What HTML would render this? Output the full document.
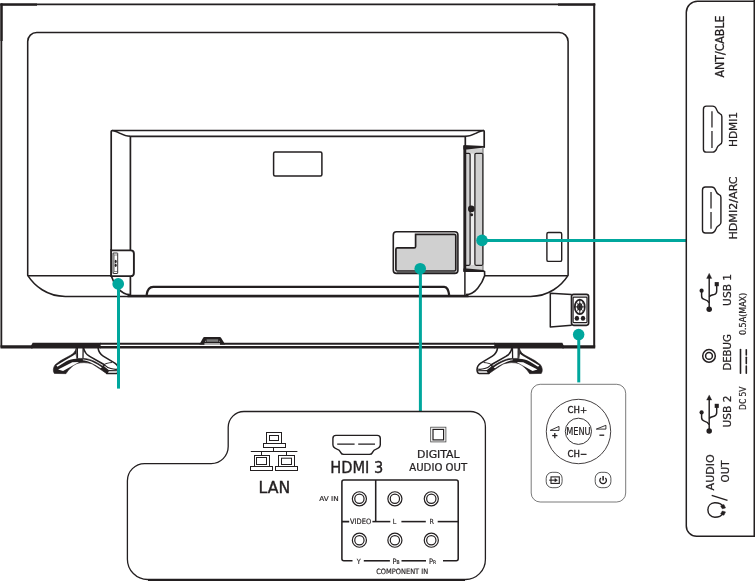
<!DOCTYPE html>
<html><head><meta charset="utf-8"><title>TV rear connections</title>
<style>html,body{margin:0;padding:0;background:#fff}svg{display:block;will-change:transform}text{font-family:"DejaVu Sans Condensed","DejaVu Sans","Liberation Sans",sans-serif;font-stretch:condensed;stroke:#231f20}</style>
</head><body>
<svg width="755" height="581" viewBox="0 0 755 581">
<rect width="755" height="581" fill="#fff"/>
<line x1="0.5" y1="4.45" x2="595.2" y2="4.45" stroke="#231f20" stroke-width="1.7" />
<line x1="0.5" y1="4.7" x2="37" y2="4.7" stroke="#231f20" stroke-width="2.2" />
<line x1="558" y1="4.7" x2="595.2" y2="4.7" stroke="#231f20" stroke-width="2.2" />
<line x1="1.35" y1="3.6" x2="1.35" y2="347.6" stroke="#231f20" stroke-width="1.8" />
<line x1="1.6" y1="3.6" x2="1.6" y2="41" stroke="#231f20" stroke-width="2.2" />
<line x1="594.2" y1="3.6" x2="594.2" y2="347.6" stroke="#231f20" stroke-width="2.0" />
<line x1="0.5" y1="346.8" x2="32.5" y2="346.8" stroke="#231f20" stroke-width="3.2" />
<line x1="562.5" y1="346.8" x2="595.2" y2="346.8" stroke="#231f20" stroke-width="3.2" />
<path d="M31.2,345.4 L32.6,342.65 L100.6,342.65 L100.6,348.5 L31.2,348.5 Z" fill="#231f20"/>
<path d="M494.3,342.65 L562.4,342.65 L563.6,345.4 L563.6,348.5 L494.3,348.5 Z" fill="#231f20"/>
<line x1="100" y1="343.65" x2="495" y2="343.65" stroke="#231f20" stroke-width="2.0" />
<line x1="100" y1="347.2" x2="495" y2="347.2" stroke="#231f20" stroke-width="2.6" />
<path d="M199.4,344.6 L203.3,337.6 Q203.6,337.0 204.4,337.0 L219.8,337.0 Q220.6,337.0 220.9,337.6 L225.2,344.6 Z" fill="#231f20"/>
<rect x="206.6" y="339.3" width="11.6" height="2.5" fill="#7a7a7a"/>
<rect x="204.4" y="343.4" width="15.6" height="1.2" fill="#fff"/>
<rect x="205" y="340.8" width="0.9" height="0.9" fill="#bbb"/><rect x="218.9" y="340.8" width="0.9" height="0.9" fill="#bbb"/>
<path d="M65.8,296.4 C46.8,296.6 34.3,285.5 27.7,275.3 L27.7,41.5 A9,9 0 0 1 36.7,32.5 L559.1,32.5 A9,9 0 0 1 568.1,41.5 L568.1,275.3 C561.5,285.5 549,296.6 530,296.4 Z" fill="none" stroke="#231f20" stroke-width="1.55" stroke-linejoin="round"/>
<line x1="27.8" y1="275.7" x2="111.2" y2="275.7" stroke="#231f20" stroke-width="1.5" />
<line x1="484.8" y1="275.8" x2="568" y2="275.8" stroke="#231f20" stroke-width="1.5" />
<path d="M111.2,275.7 L111.2,131.6 Q111.2,130.5 112.4,130.5 L483.4,130.5 Q484.2,130.5 484.2,131.4 L484.2,147.7" fill="none" stroke="#231f20" stroke-width="1.7" />
<path d="M130.4,295 L130.4,136.3 L465.3,136.3 L465.3,146.5" fill="none" stroke="#231f20" stroke-width="1.7" />
<path d="M111.8,130.5 C114,130.5 117,131.8 119.9,133.3 C123.3,135 125.8,136.3 130,136.3" fill="none" stroke="#231f20" stroke-width="1.5" />
<path d="M484,130.5 C481.8,130.5 478.8,131.8 475.9,133.3 C472.5,135 470,136.3 465.8,136.3" fill="none" stroke="#231f20" stroke-width="1.5" />
<path d="M111.2,275.7 C112.5,280 115.5,285 118.1,288.2 C121,291.8 124.5,294.5 129.9,294.6" fill="none" stroke="#231f20" stroke-width="1.6" />
<path d="M146.6,295 C147.4,289.6 149.5,286.95 153.2,286.95 L444.2,286.95 C447.6,286.95 448.4,290.3 449.2,295" fill="none" stroke="#231f20" stroke-width="2.2" stroke-linejoin="round"/>
<line x1="127.5" y1="295.95" x2="468.5" y2="295.95" stroke="#231f20" stroke-width="2.5" />
<path d="M484.5,271 L484.7,275.6 C483.4,280 480.4,285 477.7,288.2 C474.8,291.8 471.3,294.5 465.9,294.6" fill="none" stroke="#231f20" stroke-width="1.6" />
<line x1="464.9" y1="270" x2="464.9" y2="295" stroke="#231f20" stroke-width="1.5" />
<rect x="273.6" y="151.9" width="48.30" height="24.10" rx="1.5" fill="none" stroke="#231f20" stroke-width="1.5"/>
<rect x="546.9" y="232.5" width="14.80" height="28.90" rx="1.5" fill="none" stroke="#231f20" stroke-width="1.4"/>
<rect x="465.6" y="148.4" width="17.4" height="122.2" fill="#d0d0d0"/>
<rect x="470.4" y="153.6" width="4.2" height="111.4" fill="#ececec"/>
<path d="M465.8,153.3 L468.9,153.3 Q470.1,153.3 470.1,154.5 L470.1,264.1 Q470.1,265.3 468.9,265.3 L465.8,265.3" fill="none" stroke="#231f20" stroke-width="1.25" />
<path d="M474.9,154.5 Q474.9,153.3 476.1,153.3 L481.6,153.3 Q482.8,153.3 482.8,154.5 L482.8,264.1 Q482.8,265.3 481.6,265.3 L476.1,265.3 Q474.9,265.3 474.9,264.1 Z" fill="none" stroke="#231f20" stroke-width="1.25" />
<line x1="483.0" y1="148" x2="483.0" y2="270" stroke="#555" stroke-width="0.9" />
<line x1="464.8" y1="146" x2="464.8" y2="271.5" stroke="#231f20" stroke-width="2.9" />
<path d="M463.4,145.1 L483.6,146.0 Q485.0,146.2 484.9,147.4 L478,148.2 L467,149.6 L463.4,149.6 Z" fill="#231f20"/>
<path d="M463.4,268.4 L467,268.4 L478,269.6 L483.4,269.9 Q485.2,270.3 485.2,272 L484,272 L463.4,272 Z" fill="#231f20"/>
<circle cx="471.3" cy="208.9" r="3.3" fill="#231f20"/>
<circle cx="471.6" cy="214.8" r="1.5" fill="#231f20"/>
<rect x="393.3" y="231.8" width="64.60" height="41.60" rx="3.2" fill="#fff" stroke="#231f20" stroke-width="1.6"/>
<path d="M415.6,234.4 L454.4,234.4 Q455.8,234.4 455.8,235.8 L455.8,269.6 Q455.8,271 454.4,271 L397.3,271 Q395.9,271 395.9,269.6 L395.9,249.2 Q395.9,247.8 397.3,247.8 L414.2,247.8 Q415.6,247.8 415.6,246.4 Z" fill="#d0d0d0" stroke="#231f20" stroke-width="1.7" />
<line x1="397" y1="272.2" x2="455" y2="272.2" stroke="#555" stroke-width="1.6" />
<path d="M111.2,250.4 L130.7,250.4 Q133.9,250.4 133.9,253.6 L133.9,272.9 Q133.9,276.1 130.7,276.1 L111.2,276.1" fill="#fff" stroke="#231f20" stroke-width="1.9" />
<line x1="111.2" y1="249" x2="111.2" y2="277" stroke="#231f20" stroke-width="1.7" />
<rect x="113.0" y="253.0" width="4.70" height="20.50" rx="0.4" fill="#fff" stroke="#231f20" stroke-width="0.9"/>
<path d="M113,253 L114.2,255 L114.2,271.5 L113,273.5 M114.2,255 L117.7,255 M114.2,271.5 L117.7,271.5" fill="none" stroke="#444" stroke-width="0.6" />
<ellipse cx="115.7" cy="261.4" rx="1.0" ry="1.7" fill="#231f20"/><ellipse cx="115.7" cy="265.2" rx="1.0" ry="1.7" fill="#231f20"/>
<path d="M571.7,294.4 L550.3,293.2 L550.3,326.9 L571.7,325.2" fill="#fff" stroke="#231f20" stroke-width="1.5" stroke-linejoin="round"/>
<rect x="571.5" y="294.4" width="17.10" height="30.90" rx="2.2" fill="#fff" stroke="#231f20" stroke-width="1.7"/>
<rect x="573.1" y="297.2" width="13.90" height="25.40" rx="0.8" fill="none" stroke="#231f20" stroke-width="1.2"/>
<ellipse cx="579.8" cy="306.9" rx="5.0" ry="7.3" fill="#fff" stroke="#231f20" stroke-width="1.7"/>
<ellipse cx="579.8" cy="306.9" rx="2.3" ry="3.4" fill="#555" stroke="#231f20" stroke-width="1.0"/>
<line x1="579.8" y1="300" x2="579.8" y2="313.8" stroke="#231f20" stroke-width="1.0" />
<line x1="575" y1="306.9" x2="584.6" y2="306.9" stroke="#231f20" stroke-width="1.0" />
<line x1="576.4" y1="302" x2="583.2" y2="311.8" stroke="#231f20" stroke-width="0.7" />
<line x1="583.2" y1="302" x2="576.4" y2="311.8" stroke="#231f20" stroke-width="0.7" />
<ellipse cx="576.9" cy="318.2" rx="2.2" ry="2.5" fill="#231f20"/>
<ellipse cx="583.0" cy="318.2" rx="2.2" ry="2.5" fill="#231f20"/>
<path d="M 519.27,347.62 C 520.02,351.41 522.06,353.74 524.98,355.20 L 534.88,360.62 L 540.42,364.70 C 542.46,367.44 542.93,371.22 541.29,373.44 L 529.64,373.67 C 527.31,370.06 523.23,365.40 518.57,363.53 C 514.49,362.19 508.66,362.37 504.00,363.76 C 501.14,365.10 495.89,368.89 488.90,373.67 L 487.27,370.64 L 492.40,366.45 C 499.39,361.78 506.97,357.94 512.79,358.52 C 515.65,358.29 518.57,358.52 519.27,358.75 Z " fill="#231f20" stroke="#231f20" stroke-width="0.6" stroke-linejoin="round"/>
<path d="M 520.02,353.74 C 521.48,355.20 523.23,356.07 524.40,356.66 L 539.26,365.40 L 538.09,366.85 L 529.64,361.61 C 526.14,359.45 523.23,359.10 519.27,358.75 Z " fill="#fff" stroke="#231f20" stroke-width="0" />
<path d="M 516.53,361.90 L 523.23,362.25 L 537.51,369.48 L 532.55,371.11 L 521.48,364.70 Z " fill="#fff" stroke="#231f20" stroke-width="0" />
<path d="M 493.68,367.44 C 499.97,363.18 506.97,359.57 512.79,359.57 L 512.74,359.69 L 512.74,360.27 C 508.13,360.62 501.14,364.23 495.02,368.31 Z " fill="#fff" stroke="#231f20" stroke-width="0" />
<path d="M 497.64,347.62 C 497.06,351.41 495.31,354.32 492.40,356.07 L 480.74,363.07 C 477.83,365.10 476.66,368.31 477.24,371.22 C 477.54,372.97 478.12,373.55 479.28,373.55 L 488.90,373.55 L 487.44,370.64 L 492.40,366.56 L 491.23,364.81 L 506.38,356.07 C 509.30,354.62 511.04,351.99 512.21,347.62 Z " fill="#fff" stroke="#231f20" stroke-width="1.6" stroke-linejoin="round"/>
<path d="M 483.66,362.48 C 487.15,362.77 490.36,363.36 491.23,364.81 C 487.73,368.31 481.91,369.77 478.12,369.18 " fill="none" stroke="#231f20" stroke-width="1.2" />
<path d="M 477.54,370.76 L 487.44,370.64 " fill="none" stroke="#231f20" stroke-width="1.1" />
<path d="M 512.45,347.62 L 512.62,358.40 " fill="none" stroke="#231f20" stroke-width="1.3" />
<path d="M 518.28,347.62 L 518.16,358.52 " fill="none" stroke="#231f20" stroke-width="1.3" />
<path d="M 76.33,347.62 C 75.58,351.41 73.54,353.74 70.62,355.20 L 60.72,360.62 L 55.18,364.70 C 53.14,367.44 52.67,371.22 54.31,373.44 L 65.96,373.67 C 68.29,370.06 72.37,365.40 77.03,363.53 C 81.11,362.19 86.94,362.37 91.60,363.76 C 94.46,365.10 99.71,368.89 106.70,373.67 L 108.33,370.64 L 103.20,366.45 C 96.21,361.78 88.63,357.94 82.81,358.52 C 79.95,358.29 77.03,358.52 76.33,358.75 Z " fill="#231f20" stroke="#231f20" stroke-width="0.6" stroke-linejoin="round"/>
<path d="M 75.58,353.74 C 74.12,355.20 72.37,356.07 71.20,356.66 L 56.34,365.40 L 57.51,366.85 L 65.96,361.61 C 69.46,359.45 72.37,359.10 76.33,358.75 Z " fill="#fff" stroke="#231f20" stroke-width="0" />
<path d="M 79.07,361.90 L 72.37,362.25 L 58.09,369.48 L 63.05,371.11 L 74.12,364.70 Z " fill="#fff" stroke="#231f20" stroke-width="0" />
<path d="M 101.92,367.44 C 95.63,363.18 88.63,359.57 82.81,359.57 L 82.86,359.69 L 82.86,360.27 C 87.47,360.62 94.46,364.23 100.58,368.31 Z " fill="#fff" stroke="#231f20" stroke-width="0" />
<path d="M 97.96,347.62 C 98.54,351.41 100.29,354.32 103.20,356.07 L 114.86,363.07 C 117.77,365.10 118.94,368.31 118.36,371.22 C 118.06,372.97 117.48,373.55 116.32,373.55 L 106.70,373.55 L 108.16,370.64 L 103.20,366.56 L 104.37,364.81 L 89.22,356.07 C 86.30,354.62 84.56,351.99 83.39,347.62 Z " fill="#fff" stroke="#231f20" stroke-width="1.6" stroke-linejoin="round"/>
<path d="M 111.94,362.48 C 108.45,362.77 105.24,363.36 104.37,364.81 C 107.87,368.31 113.69,369.77 117.48,369.18 " fill="none" stroke="#231f20" stroke-width="1.2" />
<path d="M 118.06,370.76 L 108.16,370.64 " fill="none" stroke="#231f20" stroke-width="1.1" />
<path d="M 83.15,347.62 L 82.98,358.40 " fill="none" stroke="#231f20" stroke-width="1.3" />
<path d="M 77.32,347.62 L 77.44,358.52 " fill="none" stroke="#231f20" stroke-width="1.3" />
<line x1="118.5" y1="283.8" x2="118.5" y2="388.6" stroke="#00a79d" stroke-width="3.0" />
<circle cx="118.2" cy="283.9" r="5.85" fill="#00a79d"/>
<line x1="420.4" y1="268.7" x2="420.4" y2="411.2" stroke="#00a79d" stroke-width="3.0" />
<circle cx="420.2" cy="268.7" r="5.8" fill="#00a79d"/>
<line x1="482" y1="240.5" x2="686" y2="240.5" stroke="#00a79d" stroke-width="3.0" />
<circle cx="482" cy="240.4" r="5.8" fill="#00a79d"/>
<line x1="578.75" y1="334.7" x2="578.75" y2="382.4" stroke="#00a79d" stroke-width="3.0" />
<circle cx="578.65" cy="334.6" r="5.75" fill="#00a79d"/>
<path d="M756,1.15 L697.5,1.15 A11.2,11.2 0 0 0 686.3,12.35 L686.3,526 A10.3,10.3 0 0 0 696.6,536.3 L756,536.3" fill="none" stroke="#231f20" stroke-width="1.5" />
<line x1="754.3" y1="0" x2="754.3" y2="537" stroke="#231f20" stroke-width="1.6" />
<text x="0" y="0" font-size="11.7" stroke-width="0.26" text-anchor="middle" fill="#231f20" textLength="61.8" lengthAdjust="spacingAndGlyphs" transform="translate(724.0 46.5) rotate(-90)">ANT/CABLE</text>
<text x="0" y="0" font-size="11.3" stroke-width="0.25" text-anchor="middle" fill="#231f20" textLength="35.2" lengthAdjust="spacingAndGlyphs" transform="translate(736.9 129.5) rotate(-90)">HDMI1</text>
<text x="0" y="0" font-size="11.3" stroke-width="0.25" text-anchor="middle" fill="#231f20" textLength="63.2" lengthAdjust="spacingAndGlyphs" transform="translate(736.7 208) rotate(-90)">HDMI2/ARC</text>
<text x="0" y="0" font-size="11.3" stroke-width="0.25" text-anchor="middle" fill="#231f20" textLength="32.0" lengthAdjust="spacingAndGlyphs" transform="translate(731.2 289.9) rotate(-90)">USB 1</text>
<text x="0" y="0" font-size="11.3" stroke-width="0.25" text-anchor="middle" fill="#231f20" textLength="36.4" lengthAdjust="spacingAndGlyphs" transform="translate(731.0 352.4) rotate(-90)">DEBUG</text>
<text x="0" y="0" font-size="11.3" stroke-width="0.25" text-anchor="middle" fill="#231f20" textLength="31.8" lengthAdjust="spacingAndGlyphs" transform="translate(731.0 411.5) rotate(-90)">USB 2</text>
<text x="0" y="0" font-size="11.3" stroke-width="0.25" text-anchor="middle" fill="#231f20" textLength="36.0" lengthAdjust="spacingAndGlyphs" transform="translate(714.0 472.4) rotate(-90)">AUDIO</text>
<text x="0" y="0" font-size="11.3" stroke-width="0.25" text-anchor="middle" fill="#231f20" textLength="21.8" lengthAdjust="spacingAndGlyphs" transform="translate(728.7 471.5) rotate(-90)">OUT</text>
<text x="0" y="0" font-size="8.0" stroke-width="0.18" text-anchor="middle" fill="#231f20" textLength="42.2" lengthAdjust="spacingAndGlyphs" transform="translate(745.6 313.9) rotate(-90)">0.5A(MAX)</text>
<text x="0" y="0" font-size="8.0" stroke-width="0.18" text-anchor="middle" fill="#231f20" textLength="23.4" lengthAdjust="spacingAndGlyphs" transform="translate(745.6 398.2) rotate(-90)">DC 5V</text>
<line x1="740.5" y1="349.6" x2="740.5" y2="373.3" stroke="#231f20" stroke-width="1.6" stroke-linecap="round"/>
<line x1="746.3" y1="349.7" x2="746.3" y2="354.9" stroke="#231f20" stroke-width="1.6" stroke-linecap="round"/>
<line x1="746.3" y1="357.3" x2="746.3" y2="363.6" stroke="#231f20" stroke-width="1.6" stroke-linecap="round"/>
<line x1="746.3" y1="366.0" x2="746.3" y2="373.2" stroke="#231f20" stroke-width="1.6" stroke-linecap="round"/>
<line x1="709.2" y1="276.4" x2="709.2" y2="309.29999999999995" stroke="#231f20" stroke-width="1.45" />
<path d="M709.2,273.2 L711.8000000000001,278.4 L706.6,278.4 Z" fill="#231f20" stroke="#231f20" stroke-width="0.3" />
<circle cx="709.2" cy="309.29999999999995" r="2.75" fill="#231f20"/>
<path d="M709.2,296.7 C710.7,295.09999999999997 712.5,295.0 714.0,294.59999999999997 C716.2,294.0 716.7,292.9 716.7,290.9 L716.7,285.4" fill="none" stroke="#231f20" stroke-width="1.45" />
<rect x="714.7" y="282.09999999999997" width="4.1" height="4.1" fill="#231f20"/>
<path d="M709.2,302.9 C708.0,300.7 706.7,300.2 704.3000000000001,299.4 C702.2,298.79999999999995 701.6,297.9 701.6,295.9 L701.6,291.4" fill="none" stroke="#231f20" stroke-width="1.45" />
<circle cx="701.6" cy="290.7" r="2.1" fill="#231f20"/>
<line x1="709.2" y1="398.1" x2="709.2" y2="431.0" stroke="#231f20" stroke-width="1.45" />
<path d="M709.2,394.90000000000003 L711.8000000000001,400.1 L706.6,400.1 Z" fill="#231f20" stroke="#231f20" stroke-width="0.3" />
<circle cx="709.2" cy="431.0" r="2.75" fill="#231f20"/>
<path d="M709.2,418.40000000000003 C710.7,416.8 712.5,416.70000000000005 714.0,416.3 C716.2,415.70000000000005 716.7,414.6 716.7,412.6 L716.7,407.1" fill="none" stroke="#231f20" stroke-width="1.45" />
<rect x="714.7" y="403.8" width="4.1" height="4.1" fill="#231f20"/>
<path d="M709.2,424.6 C708.0,422.40000000000003 706.7,421.90000000000003 704.3000000000001,421.1 C702.2,420.5 701.6,419.6 701.6,417.6 L701.6,413.1" fill="none" stroke="#231f20" stroke-width="1.45" />
<circle cx="701.6" cy="412.40000000000003" r="2.1" fill="#231f20"/>
<circle cx="709" cy="355.9" r="6.3" fill="none" stroke="#231f20" stroke-width="1.5"/>
<circle cx="709" cy="355.9" r="3.4" fill="none" stroke="#231f20" stroke-width="1.5"/>
<path d="M723.2,506.4 C721.5,503.9 718,502.7 714.6,502.8 C710.6,503 707.9,506 707.9,509.9 C707.9,514 710.8,517.2 714.8,517.3 C718,517.3 721.5,516 723.2,513.4" fill="none" stroke="#231f20" stroke-width="1.4" />
<path d="M720.6,505.9 L723.9,504.5 L725.5,507.9 L722.3,508.8 Z" fill="#231f20" stroke="#231f20" stroke-width="0.5" />
<path d="M720.6,513.9 L723.9,515.3 L725.5,511.9 L722.3,511 Z" fill="#231f20" stroke="#231f20" stroke-width="0.5" />
<line x1="711.7" y1="495.3" x2="727.5" y2="500.3" stroke="#231f20" stroke-width="1.4" />
<path d="M244,411.5 L470.4,411.5 A15,15 0 0 1 485.4,426.5 L485.4,559.5 A20,20 0 0 1 465.4,579.5 L147.7,579.5 A20.3,20.3 0 0 1 127.4,559.2 L127.4,480.8 A17.2,17.2 0 0 1 144.6,463.6 L211.2,463.6 A17,17 0 0 0 228.2,446.6 L228.2,427.3 A15.8,15.8 0 0 1 244,411.5 Z" fill="none" stroke="#231f20" stroke-width="1.3" />
<line x1="148" y1="580.2" x2="465" y2="580.2" stroke="#231f20" stroke-width="1.8" />
<rect x="266.5" y="432.5" width="15.00" height="11.00" rx="0" fill="none" stroke="#231f20" stroke-width="1.0"/>
<rect x="269.5" y="435.5" width="9.00" height="5.00" rx="0" fill="none" stroke="#231f20" stroke-width="1.0"/>
<rect x="263.5" y="443.5" width="22.00" height="4.00" rx="0" fill="none" stroke="#231f20" stroke-width="1.0"/>
<rect x="254.5" y="455.5" width="15.00" height="11.00" rx="0" fill="none" stroke="#231f20" stroke-width="1.0"/>
<rect x="256.5" y="457.5" width="10.00" height="7.00" rx="0" fill="none" stroke="#231f20" stroke-width="1.0"/>
<rect x="250.5" y="466.5" width="22.00" height="4.00" rx="0" fill="none" stroke="#231f20" stroke-width="1.0"/>
<rect x="278.5" y="455.5" width="16.00" height="11.00" rx="0" fill="none" stroke="#231f20" stroke-width="1.0"/>
<rect x="281.5" y="458.2" width="10.00" height="6.30" rx="0" fill="none" stroke="#231f20" stroke-width="1.0"/>
<rect x="275.5" y="466.5" width="22.00" height="4.00" rx="0" fill="none" stroke="#231f20" stroke-width="1.0"/>
<line x1="250.8" y1="451.5" x2="297.4" y2="451.5" stroke="#231f20" stroke-width="1.0" />
<line x1="273.5" y1="447.5" x2="273.5" y2="451.5" stroke="#231f20" stroke-width="1.0" />
<line x1="261.5" y1="451.5" x2="261.5" y2="455.5" stroke="#231f20" stroke-width="1.0" />
<line x1="286.5" y1="451.5" x2="286.5" y2="455.5" stroke="#231f20" stroke-width="1.0" />
<text x="274.4" y="493.1" font-size="16.2" stroke-width="0.36" text-anchor="middle" fill="#231f20" textLength="31.6" lengthAdjust="spacingAndGlyphs" >LAN</text>
<path d="M336,435.4 L377.2,435.4 Q380.3,435.4 380.3,438.4 L380.3,444.6 C380.3,447.6 378.6,448.4 376.2,449.2 C373.6,450 373.2,451 372.4,452.6 C371.8,454 371,454.4 369.4,454.4 L343.8,454.4 C342.2,454.4 341.4,454 340.8,452.6 C340,451 339.6,450 337,449.2 C334.6,448.4 332.9,447.6 332.9,444.6 L332.9,438.4 Q332.9,435.4 336,435.4 Z" fill="none" stroke="#231f20" stroke-width="1.4" />
<path d="M337.2,444.2 L354.6,444.2 M358.2,444.2 L375,444.2" fill="none" stroke="#231f20" stroke-width="1.25" />
<g transform="translate(712.65 129.15) rotate(-90) scale(0.97) translate(-356.6 -444.9)"><path d="M336,435.4 L377.2,435.4 Q380.3,435.4 380.3,438.4 L380.3,444.6 C380.3,447.6 378.6,448.4 376.2,449.2 C373.6,450 373.2,451 372.4,452.6 C371.8,454 371,454.4 369.4,454.4 L343.8,454.4 C342.2,454.4 341.4,454 340.8,452.6 C340,451 339.6,450 337,449.2 C334.6,448.4 332.9,447.6 332.9,444.6 L332.9,438.4 Q332.9,435.4 336,435.4 Z" fill="none" stroke="#231f20" stroke-width="1.45"/><path d="M337.2,444.2 L354.6,444.2 M358.2,444.2 L375,444.2" fill="none" stroke="#231f20" stroke-width="1.3"/></g>
<g transform="translate(711.7 209.95) rotate(-90) scale(0.97) translate(-356.6 -444.9)"><path d="M336,435.4 L377.2,435.4 Q380.3,435.4 380.3,438.4 L380.3,444.6 C380.3,447.6 378.6,448.4 376.2,449.2 C373.6,450 373.2,451 372.4,452.6 C371.8,454 371,454.4 369.4,454.4 L343.8,454.4 C342.2,454.4 341.4,454 340.8,452.6 C340,451 339.6,450 337,449.2 C334.6,448.4 332.9,447.6 332.9,444.6 L332.9,438.4 Q332.9,435.4 336,435.4 Z" fill="none" stroke="#231f20" stroke-width="1.45"/><path d="M337.2,444.2 L354.6,444.2 M358.2,444.2 L375,444.2" fill="none" stroke="#231f20" stroke-width="1.3"/></g>
<text x="356.8" y="472.7" font-size="15.6" stroke-width="0.34" text-anchor="middle" fill="#231f20" textLength="53.2" lengthAdjust="spacingAndGlyphs" >HDMI 3</text>
<rect x="430.7" y="427.2" width="15.20" height="14.70" rx="0" fill="none" stroke="#444" stroke-width="0.8"/>
<rect x="433.0" y="429.4" width="10.60" height="10.50" rx="0" fill="none" stroke="#231f20" stroke-width="1.2"/>
<text x="438.3" y="458.0" font-size="10.6" stroke-width="0.23" text-anchor="middle" fill="#231f20" textLength="42.6" lengthAdjust="spacingAndGlyphs" >DIGITAL</text>
<text x="438.2" y="470.9" font-size="10.6" stroke-width="0.23" text-anchor="middle" fill="#231f20" textLength="57.8" lengthAdjust="spacingAndGlyphs" >AUDIO OUT</text>
<path d="M349.2,521.6 L341.9,521.6 M341.9,558.8 L341.9,482 Q341.9,480 343.9,480 L456.2,480 Q458.2,480 458.2,482 L458.2,558.8 Q458.2,560.8 456.2,560.8 L443,560.8 M341.9,558.8 Q341.9,560.8 343.9,560.8 L352.5,560.8" fill="none" stroke="#231f20" stroke-width="1.55" />
<line x1="375.7" y1="480" x2="375.7" y2="521.6" stroke="#231f20" stroke-width="1.55" />
<line x1="372.4" y1="521.6" x2="390.3" y2="521.6" stroke="#231f20" stroke-width="1.55" />
<line x1="401.4" y1="521.6" x2="425.8" y2="521.6" stroke="#231f20" stroke-width="1.55" />
<line x1="437.7" y1="521.6" x2="458.2" y2="521.6" stroke="#231f20" stroke-width="1.55" />
<line x1="363.8" y1="560.8" x2="389.9" y2="560.8" stroke="#231f20" stroke-width="1.55" />
<line x1="401.5" y1="560.8" x2="426" y2="560.8" stroke="#231f20" stroke-width="1.55" />
<circle cx="359.4" cy="498.8" r="7.05" fill="none" stroke="#231f20" stroke-width="1.2"/>
<circle cx="359.4" cy="498.8" r="4.65" fill="none" stroke="#231f20" stroke-width="1.2"/>
<circle cx="359.4" cy="540.2" r="7.05" fill="none" stroke="#231f20" stroke-width="1.2"/>
<circle cx="359.4" cy="540.2" r="4.65" fill="none" stroke="#231f20" stroke-width="1.2"/>
<circle cx="394.9" cy="498.8" r="7.05" fill="none" stroke="#231f20" stroke-width="1.2"/>
<circle cx="394.9" cy="498.8" r="4.65" fill="none" stroke="#231f20" stroke-width="1.2"/>
<circle cx="394.9" cy="540.2" r="7.05" fill="none" stroke="#231f20" stroke-width="1.2"/>
<circle cx="394.9" cy="540.2" r="4.65" fill="none" stroke="#231f20" stroke-width="1.2"/>
<circle cx="431.3" cy="498.8" r="7.05" fill="none" stroke="#231f20" stroke-width="1.2"/>
<circle cx="431.3" cy="498.8" r="4.65" fill="none" stroke="#231f20" stroke-width="1.2"/>
<circle cx="431.3" cy="540.2" r="7.05" fill="none" stroke="#231f20" stroke-width="1.2"/>
<circle cx="431.3" cy="540.2" r="4.65" fill="none" stroke="#231f20" stroke-width="1.2"/>
<text x="319.3" y="500.5" font-size="6.6" stroke-width="0.15" text-anchor="start" fill="#231f20" textLength="19.4" lengthAdjust="spacingAndGlyphs" >AV IN</text>
<text x="360.6" y="524.1" font-size="7.4" stroke-width="0.16" text-anchor="middle" fill="#231f20" textLength="21.2" lengthAdjust="spacingAndGlyphs" >VIDEO</text>
<text x="394.4" y="524.1" font-size="7.0" stroke-width="0.15" text-anchor="middle" fill="#231f20" >L</text>
<text x="431.6" y="524.1" font-size="7.0" stroke-width="0.15" text-anchor="middle" fill="#231f20" >R</text>
<text x="358.8" y="563.6" font-size="7.2" stroke-width="0.16" text-anchor="middle" fill="#231f20" >Y</text>
<text x="392.4" y="563.6" font-size="7.4" stroke-width="0.15" fill="#231f20">P<tspan font-size="5">B</tspan></text>
<text x="429.0" y="563.6" font-size="7.4" stroke-width="0.15" fill="#231f20">P<tspan font-size="5">R</tspan></text>
<text x="402.2" y="573.7" font-size="7.3" stroke-width="0.16" text-anchor="middle" fill="#231f20" textLength="52" lengthAdjust="spacingAndGlyphs" >COMPONENT IN</text>
<rect x="531.2" y="384.3" width="94.50" height="117.70" rx="9" fill="none" stroke="#333" stroke-width="0.65"/>
<circle cx="578.5" cy="431.5" r="32.2" fill="none" stroke="#231f20" stroke-width="0.85"/>
<circle cx="578.4" cy="431.3" r="13.1" fill="none" stroke="#231f20" stroke-width="0.9"/>
<text x="578.4" y="435.2" font-size="11" stroke-width="0.24" text-anchor="middle" fill="#231f20" textLength="24.4" lengthAdjust="spacingAndGlyphs" >MENU</text>
<text x="577.4" y="412.8" font-size="9.1" stroke-width="0.20" text-anchor="middle" fill="#231f20" textLength="19.6" lengthAdjust="spacingAndGlyphs" style="stroke-width:.34px">CH+</text>
<text x="577.4" y="456.9" font-size="9.1" stroke-width="0.20" text-anchor="middle" fill="#231f20" textLength="19.6" lengthAdjust="spacingAndGlyphs" style="stroke-width:.34px">CH−</text>
<path d="M550.2,430.4 L559,426.4 L559,430.4 Z" fill="none" stroke="#231f20" stroke-width="0.9" />
<path d="M596.3,429.1 L605.9,425.3 L605.9,429.1 Z" fill="none" stroke="#231f20" stroke-width="0.9" />
<line x1="552.2" y1="435.6" x2="557.4" y2="435.6" stroke="#231f20" stroke-width="1.3" />
<line x1="554.8" y1="433" x2="554.8" y2="438.2" stroke="#231f20" stroke-width="1.3" />
<line x1="599.4" y1="435.2" x2="604.2" y2="435.2" stroke="#231f20" stroke-width="1.3" />
<rect x="546.2" y="472.3" width="15.90" height="15.40" rx="6" fill="none" stroke="#222" stroke-width="0.75"/>
<rect x="595.2" y="472.3" width="15.70" height="15.40" rx="6" fill="none" stroke="#222" stroke-width="0.75"/>
<rect x="551.0" y="476.9" width="8.30" height="6.50" rx="0" fill="none" stroke="#231f20" stroke-width="1.1"/>
<line x1="549.2" y1="480.15" x2="556" y2="480.15" stroke="#231f20" stroke-width="1.1" />
<path d="M554.8,478.3 L557.6,480.15 L554.8,482 Z" fill="#231f20" stroke="#231f20" stroke-width="0.3" />
<path d="M600.9,477.9 A3.3,3.3 0 1 0 605.3,477.9" fill="none" stroke="#231f20" stroke-width="1.3" />
<line x1="603.1" y1="476.0" x2="603.1" y2="480.6" stroke="#231f20" stroke-width="1.5" />
</svg>
</body></html>
